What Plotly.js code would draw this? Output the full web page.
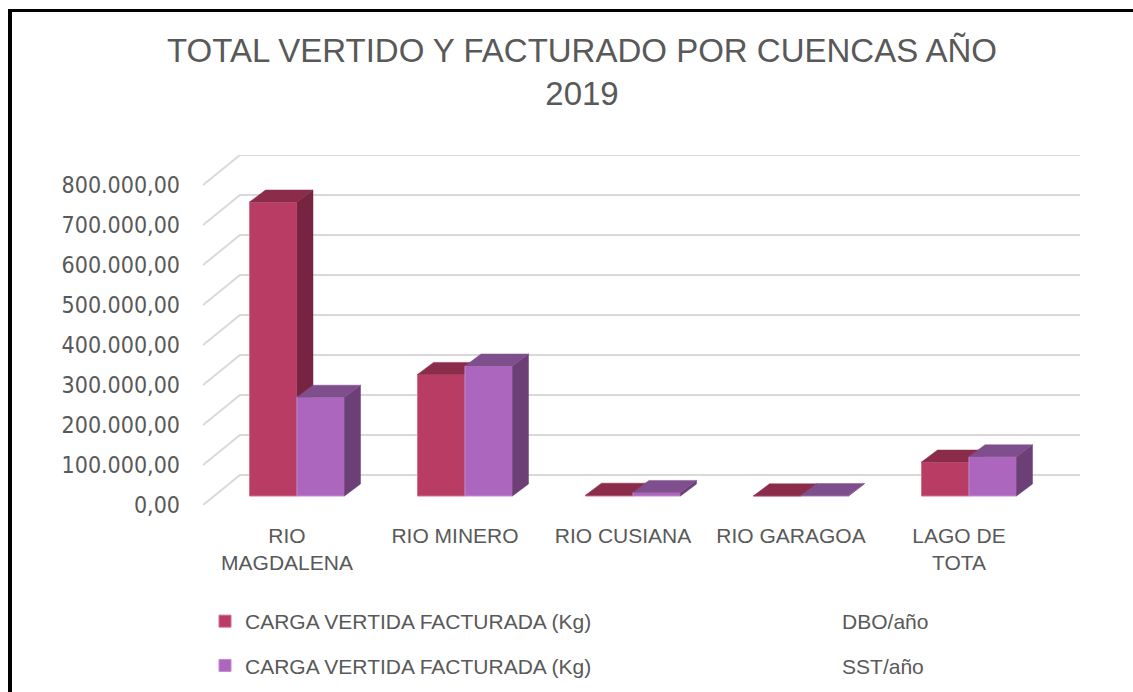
<!DOCTYPE html>
<html>
<head>
<meta charset="utf-8">
<script src="https://cdn.plot.ly/plotly-3.0.1.min.js"></script>
<style>
  html, body { margin: 0; padding: 0; background: #fff; overflow: hidden; }
  #chart { width: 1133px; height: 692px; }
  #frame { position: absolute; left: 8px; top: 9px; width: 1200px; height: 800px;
           border-left: 4px solid #000; border-top: 3px solid #000; pointer-events: none; }
</style>
</head>
<body>
<div id="chart"></div>
<div id="frame"></div>
<script>
// ---- data ----
var categories = ["RIO<br>MAGDALENA", "RIO MINERO", "RIO CUSIANA", "RIO GARAGOA", "LAGO DE<br>TOTA"];
var dboValues = [735000, 304000, 2000, 500, 85000];   // CARGA VERTIDA FACTURADA (Kg) DBO/año
var sstValues = [247000, 325000, 9000, 1000, 98000];  // CARGA VERTIDA FACTURADA (Kg) SST/año
var yTicks = [0, 100000, 200000, 300000, 400000, 500000, 600000, 700000, 800000];
var seriesLabel = "CARGA VERTIDA FACTURADA (Kg)";
var dboUnit = "DBO/año";
var sstUnit = "SST/año";

// ---- pseudo-3D geometry (in axis units) ----
var pxPerCat = 168;          // px per category on x
var pxPerVal = 0.0004;       // px per value unit on y
var wallDx = 37 / pxPerCat, wallDy = 30 / pxPerVal;   // back wall offset
var barShiftX = 10 / pxPerCat, barBase = 9 / pxPerVal; // bar front plane offset
var barW = 47.5 / pxPerCat;
var depthDx = 16 / pxPerCat, depthDy = 12 / pxPerVal;
var xMin = -0.5, xMax = -0.5 + 877 / pxPerCat;

var idx = categories.map(function (_, i) { return i; });

// gridlines (back wall + left diagonal)
var gx = [], gy = [];
yTicks.forEach(function (v) {
  gx.push(xMin, xMin + wallDx, xMax, null);
  gy.push(v, v + wallDy, v + wallDy, null);
});

function facePolys(vals, sign) {
  var tx = [], ty = [], sx = [], sy = [], xs = [];
  vals.forEach(function (v, i) {
    var xc = i + barShiftX + sign * barW / 2;
    var xl = xc - barW / 2, xr = xc + barW / 2;
    var yb = barBase, yt = barBase + v;
    xs.push(xc);
    // top face
    tx.push(xl, xl + depthDx, xr + depthDx, xr, xl, null);
    ty.push(yt, yt + depthDy, yt + depthDy, yt, yt, null);
    // right side face
    sx.push(xr, xr + depthDx, xr + depthDx, xr, xr, null);
    sy.push(yb, yb + depthDy, yt + depthDy, yt, yb, null);
  });
  return { tx: tx, ty: ty, sx: sx, sy: sy, xs: xs };
}
var dboF = facePolys(dboValues, -1);
var sstF = facePolys(sstValues, 1);

var nb = "\u00a0".repeat(43);
var traces = [
  { type: "scatter", mode: "lines", x: gx, y: gy, line: { color: "#d9d9d9", width: 2 },
    hoverinfo: "skip", showlegend: false, zorder: 0, cliponaxis: false },
  { type: "bar", name: seriesLabel + nb + dboUnit, x: dboF.xs, y: dboValues, base: barBase,
    width: barW, marker: { color: "#b83c64", line: { color: "#d0708f", width: 1 } },
    legendgroup: "dbo", zorder: 1 },
  { type: "scatter", mode: "lines", x: dboF.sx, y: dboF.sy, fill: "toself", fillcolor: "#772442",
    line: { color: "#772442", width: 0.5 }, hoverinfo: "skip", showlegend: false, legendgroup: "dbo", zorder: 2, cliponaxis: false },
  { type: "scatter", mode: "lines", x: dboF.tx, y: dboF.ty, fill: "toself", fillcolor: "#8b2d4a",
    line: { color: "#8b2d4a", width: 0.5 }, hoverinfo: "skip", showlegend: false, legendgroup: "dbo", zorder: 2, cliponaxis: false },
  { type: "bar", name: seriesLabel + nb + sstUnit, x: sstF.xs, y: sstValues, base: barBase,
    width: barW, marker: { color: "#ad66bd", line: { color: "#c48ad0", width: 1 } },
    legendgroup: "sst", zorder: 3 },
  { type: "scatter", mode: "lines", x: sstF.sx, y: sstF.sy, fill: "toself", fillcolor: "#6d3f77",
    line: { color: "#6d3f77", width: 0.5 }, hoverinfo: "skip", showlegend: false, legendgroup: "sst", zorder: 4, cliponaxis: false },
  { type: "scatter", mode: "lines", x: sstF.tx, y: sstF.ty, fill: "toself", fillcolor: "#7f4e8c",
    line: { color: "#7f4e8c", width: 0.5 }, hoverinfo: "skip", showlegend: false, legendgroup: "sst", zorder: 4, cliponaxis: false }
];

var sans = "Liberation Sans, Arial, sans-serif";
var layout = {
  width: 1133, height: 692,
  margin: { l: 203, r: 53, t: 155, b: 187, pad: 0, autoexpand: false },
  paper_bgcolor: "#ffffff", plot_bgcolor: "rgba(0,0,0,0)",
  separators: ",.",
  barmode: "overlay",
  title: {
    text: "TOTAL VERTIDO Y FACTURADO POR CUENCAS AÑO<br>2019",
    font: { family: sans, size: 33, color: "#595959" },
    xref: "container", x: 582 / 1133, xanchor: "center",
    yref: "container", y: 1 - 62 / 692, yanchor: "top"
  },
  xaxis: {
    type: "linear", range: [xMin, xMax], tickmode: "array", tickvals: idx, ticktext: categories,
    showgrid: false, zeroline: false, showline: false, ticks: "", ticklabelstandoff: 16,
    tickfont: { family: sans, size: 21, color: "#595959" }, fixedrange: true, automargin: false
  },
  yaxis: {
    range: [0, 350 / pxPerVal], tickmode: "array", tickvals: yTicks, tickformat: ",.2f",
    showgrid: false, zeroline: false, showline: false, ticks: "", ticklabelstandoff: 22,
    tickfont: { family: "DejaVu Sans Condensed, DejaVu Sans, sans-serif", size: 23, color: "#595959" },
    fixedrange: true, automargin: false
  },
  showlegend: true,
  legend: {
    orientation: "v", x: 2 / 877, xanchor: "left", xref: "paper",
    yref: "container", y: 1 - 601 / 692, yanchor: "top",
    font: { family: sans, size: 21, color: "#595959" },
    traceorder: "grouped", tracegroupgap: 14, bgcolor: "rgba(0,0,0,0)", itemclick: false, itemdoubleclick: false
  }
};

Plotly.newPlot("chart", traces, layout, { displayModeBar: false, staticPlot: true });
</script>
</body>
</html>
